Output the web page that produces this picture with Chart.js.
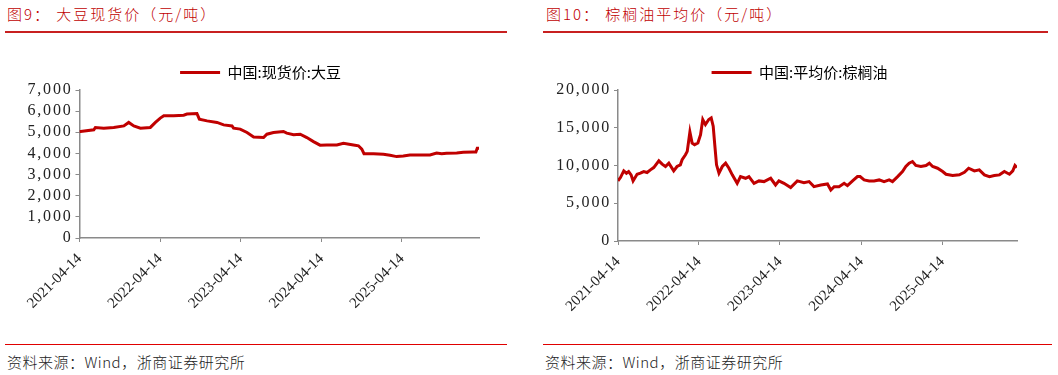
<!DOCTYPE html>
<html>
<head>
<meta charset="utf-8">
<script src="https://cdn.jsdelivr.net/npm/chart.js@4.4.1/dist/chart.umd.min.js"></script>
<style>
body{margin:0;background:#fff;width:1058px;height:375px;position:relative;overflow:hidden;font-family:"Noto Sans CJK SC",sans-serif}
.title{position:absolute;top:5px;font-size:15px;line-height:18px;font-weight:300;letter-spacing:2px;color:#c00000;white-space:nowrap}
.rule{position:absolute;height:2px;background:#c82020}
.rule2{position:absolute;height:1px;background:#e00000}
.src{position:absolute;top:352px;font-size:15px;line-height:20px;font-weight:300;letter-spacing:0.5px;color:#222;white-space:nowrap}
canvas{position:absolute;top:55px}
</style>
</head>
<body>

<div class="title" style="left:7px">图9：&nbsp;大豆现货价（元/吨）</div>
<div class="rule" style="left:5px;width:502px;top:31px"></div>
<canvas id="chartSoja" width="476" height="265" style="left:22px"></canvas>
<div class="rule2" style="left:5px;width:502px;top:344px"></div>
<div class="src" style="left:7px">资料来源：Wind，浙商证券研究所</div>

<div class="title" style="left:546px">图10：&nbsp;棕榈油平均价（元/吨）</div>
<div class="rule" style="left:543px;width:505px;top:31px"></div>
<canvas id="chartPalma" width="496" height="265" style="left:552px"></canvas>
<div class="rule2" style="left:543px;width:509px;top:344px"></div>
<div class="src" style="left:545px">资料来源：Wind，浙商证券研究所</div>

<script>
// valores
const datasSoja=['2021-04-14','2021-04-19','2021-06-18','2021-06-25','2021-08-02','2021-09-16','2021-11-01','2021-11-23','2021-12-16','2022-01-15','2022-03-01','2022-03-24','2022-04-15','2022-05-01','2022-06-15','2022-07-30','2022-08-14','2022-09-28','2022-10-09','2022-11-13','2022-12-28','2023-01-27','2023-03-06','2023-03-13','2023-04-12','2023-05-13','2023-06-12','2023-07-27','2023-08-11','2023-09-10','2023-10-25','2023-11-09','2023-12-10','2024-01-09','2024-02-08','2024-03-09','2024-04-08','2024-05-08','2024-06-23','2024-07-23','2024-09-06','2024-09-29','2024-10-14','2024-10-24','2024-12-06','2025-01-20','2025-02-19','2025-03-21','2025-04-20','2025-05-20','2025-07-05','2025-08-19','2025-09-18','2025-10-11','2025-11-02','2025-12-18','2026-01-17','2026-03-03','2026-03-15','2026-03-21','2026-03-29']
const valoresSoja=[5040,5040,5115,5225,5195,5230,5300,5465,5300,5195,5230,5465,5670,5780,5780,5810,5860,5890,5620,5540,5465,5350,5300,5195,5150,4990,4780,4750,4910,4990,5040,4960,4880,4910,4750,4560,4390,4400,4400,4480,4400,4360,4200,3990,3990,3960,3910,3850,3880,3930,3930,3930,4020,3990,4010,4020,4050,4070,4070,4240,4240]

const datasPalma=['2021-04-14','2021-04-25','2021-05-10','2021-05-22','2021-06-01','2021-06-12','2021-06-21','2021-07-09','2021-07-24','2021-08-08','2021-08-23','2021-09-07','2021-09-22','2021-10-15','2021-10-30','2021-11-14','2021-11-29','2021-12-21','2022-01-05','2022-01-20','2022-01-28','2022-02-12','2022-02-20','2022-03-04','2022-03-14','2022-03-25','2022-04-09','2022-04-21','2022-05-01','2022-05-13','2022-05-28','2022-06-08','2022-06-17','2022-06-24','2022-07-02','2022-07-13','2022-07-28','2022-08-12','2022-08-27','2022-09-11','2022-10-03','2022-10-18','2022-11-10','2022-11-25','2022-12-18','2023-01-09','2023-02-01','2023-03-03','2023-03-25','2023-04-09','2023-05-02','2023-06-01','2023-07-01','2023-07-31','2023-08-23','2023-09-14','2023-10-15','2023-11-14','2023-11-29','2023-12-14','2024-01-05','2024-01-28','2024-02-12','2024-03-06','2024-03-28','2024-04-09','2024-04-27','2024-05-20','2024-06-11','2024-07-04','2024-07-26','2024-08-18','2024-09-02','2024-09-25','2024-10-17','2024-11-01','2024-11-16','2024-12-01','2024-12-16','2025-01-08','2025-01-31','2025-02-15','2025-03-02','2025-03-24','2025-04-16','2025-05-01','2025-05-31','2025-06-30','2025-07-23','2025-08-11','2025-09-06','2025-09-28','2025-10-21','2025-11-13','2025-12-05','2025-12-28','2026-01-19','2026-02-11','2026-02-26','2026-03-08','2026-03-17']
const valoresPalma=[7960,8400,9290,8980,9200,8760,7960,8840,8980,9200,9070,9420,9730,10620,10180,9870,10310,9290,9870,10090,10760,11420,11870,14440,12980,12760,12980,14090,16090,15420,16090,16310,15200,12760,10090,8980,9870,10310,9640,8760,7640,8530,8310,8530,7640,7960,7870,8310,7420,7960,7640,7070,7960,7730,7870,7200,7420,7560,6760,7200,7200,7640,7330,7960,8530,8530,8090,7960,7960,8090,7870,8090,7870,8530,9200,9870,10310,10530,10000,9870,10000,10310,9870,9640,9200,8840,8670,8760,9110,9640,9290,9420,8760,8530,8670,8760,9200,8840,9290,10000,9730]

const datasEixo=['2021-04-14','2022-04-14','2023-04-14','2024-04-14','2025-04-14']

const VERMELHO='#c00000'
const CINZA='#8a8a8a'
const inicio=Date.UTC(2021,3,14)

function dia(s){
let p=s.split('-')
return Math.round((Date.UTC(+p[0],p[1]-1,+p[2])-inicio)/864e5)
}

const diasEixo=datasEixo.map(dia)

// rotulos do eixo y mais espacados, como no original
function espacarRotulos(s){
if(s._espacado)return
s._espacado=true
let original=s.drawLabels.bind(s)
s.drawLabels=function(area){
this.ctx.save()
this.ctx.letterSpacing='1.8px'
original(area)
this.ctx.restore()
}
}

// legenda um pouco deslocada para a direita, como no original
const deslocarLegenda={
id:'deslocarLegenda',
afterLayout(chart,args,opts){
chart.legend.left+=opts.dx
chart.legend.right+=opts.dx
}
}

function montarGrafico(id,legenda,datas,valores,yMax,yPasso,larguraY,alturaX,direita,dx){

let pontos=datas.map((d,i)=>({x:dia(d),y:valores[i]}))

return new Chart(document.getElementById(id),{
type:'line',
data:{
datasets:[{
label:legenda,
data:pontos,
borderColor:VERMELHO,
backgroundColor:VERMELHO,
borderWidth:3,
pointRadius:0,
tension:0
}]
},
options:{
responsive:false,
animation:false,
layout:{padding:{top:0,right:direita,bottom:0,left:0}},
plugins:{
deslocarLegenda:{dx:dx},
legend:{
position:'top',
labels:{
boxWidth:40,
boxHeight:3,
padding:10,
color:'#333',
font:{family:'"Noto Sans CJK SC"',size:15},
generateLabels:()=>[{
text:legenda,
fillStyle:VERMELHO,
strokeStyle:VERMELHO,
lineWidth:0,
hidden:false,
datasetIndex:0
}]
}
},
tooltip:{enabled:false}
},
scales:{
x:{
type:'linear',
min:0,
max:pontos[pontos.length-1].x,
afterBuildTicks:s=>{s.ticks=diasEixo.map(v=>({value:v}))},
afterFit:s=>{s.height=alturaX},
ticks:{
autoSkip:false,
minRotation:45,
maxRotation:45,
padding:8,
color:'#222',
font:{family:'"Liberation Serif"',size:15},
callback:v=>datasEixo[diasEixo.indexOf(v)]
},
grid:{drawOnChartArea:false,drawTicks:true,tickLength:4,color:CINZA},
border:{color:CINZA,width:1.5}
},
y:{
min:0,
max:yMax,
afterFit:s=>{s.width=larguraY;espacarRotulos(s)},
ticks:{
autoSkip:false,
stepSize:yPasso,
padding:3,
color:'#222',
font:{family:'"Liberation Serif"',size:16},
callback:v=>v.toLocaleString('en-US')
},
grid:{drawOnChartArea:false,drawTicks:true,tickLength:4,color:CINZA},
border:{color:CINZA,width:1.5}
}
}
},
plugins:[deslocarLegenda]
})

}

montarGrafico('chartSoja','中国:现货价:大豆',datasSoja,valoresSoja,7000,1000,57,82,19,10)
montarGrafico('chartPalma','中国:平均价:棕榈油',datasPalma,valoresPalma,20000,5000,66,79,31,15)
</script>
</body>
</html>
